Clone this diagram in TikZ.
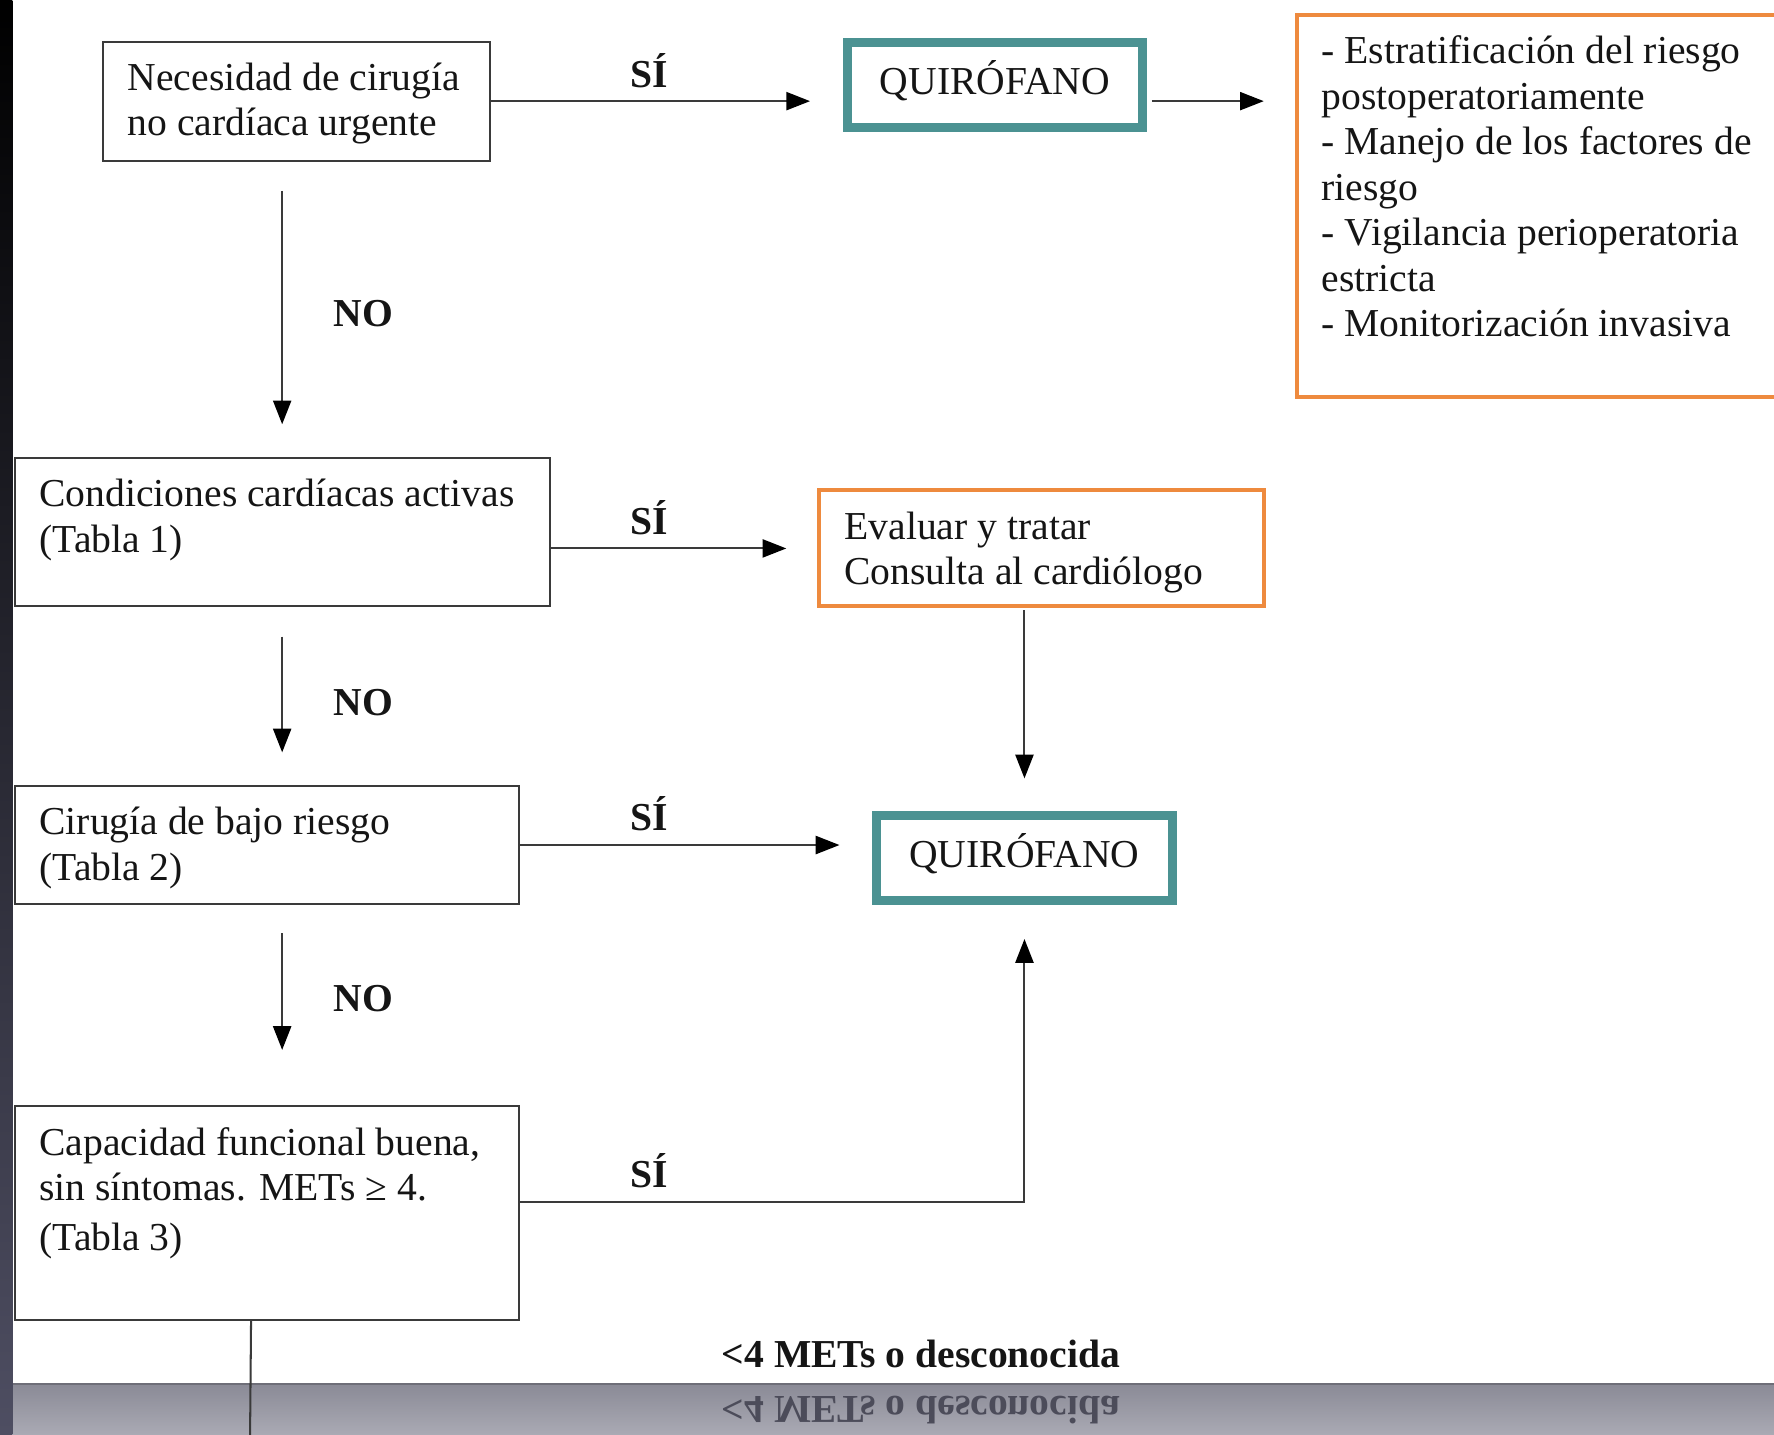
\documentclass[tikz,border=0pt]{standalone}
\usepackage{fontspec}
\setmainfont{Liberation Serif}
\usetikzlibrary{arrows.meta,calc}
\definecolor{teal1}{HTML}{4B9292}
\definecolor{orange1}{HTML}{EE8A3E}
\definecolor{ln}{HTML}{3A3A3A}
\definecolor{txt}{HTML}{151515}
\definecolor{refl}{HTML}{4C4C5A}
\definecolor{bandtop}{HTML}{8A8A96}
\definecolor{bandbot}{HTML}{AAAAB4}
\definecolor{bandline}{HTML}{6E6E78}
\definecolor{stripmid}{HTML}{12122C}
\definecolor{stripbot}{HTML}{4E4E62}
% box text: {width}{height}{left padding}{text}
\newcommand\bxt[4]{\parbox[c][#2][t]{#1}{\fontsize{35}{40.2}\selectfont\color{txt}\raggedright\leftskip=#3\relax\parindent=0pt\rule{0pt}{43pt}#4}}
\begin{document}
\begin{tikzpicture}[x=1pt,y=-1pt,
  bx/.style={draw=ln, line width=1.8pt, inner sep=0pt, anchor=north west},
  ob/.style={draw=orange1, line width=3.5pt, inner sep=0pt, anchor=north west},
  qb/.style={draw=teal1, line width=8pt, inner sep=0pt, minimum width=261pt, minimum height=75pt,
    font=\fontsize{35}{40}\selectfont, text=txt, text height=17pt, text depth=0pt},
  lbl/.style={font=\fontsize{35}{40}\selectfont\bfseries, text=txt, anchor=base, inner sep=0pt},
  conn/.style={draw=ln, line width=1.8pt, -{Triangle[length=21pt,width=16pt,color=black]}},
  plain/.style={draw=ln, line width=1.8pt},
]
% background and bounding box
\fill[white] (0,0) rectangle (1568,1268);
\useasboundingbox (0,0) rectangle (1568,1268);
% bottom band
\shade[top color=bandtop, bottom color=bandbot] (11,1223) rectangle (1568,1268);
\draw[bandline, line width=1.5pt] (11,1223) -- (1568,1223);
% left strip
\shade[top color=black, middle color=stripmid, bottom color=stripbot] (0,0) rectangle (11,1268);

% boxes
\node[bx] (b1) at (90,36) {\bxt{342pt}{105pt}{22pt}{Necesidad de cirugía\\no cardíaca urgente}};
\node[qb] (q1) at (879.5,75) {QUIRÓFANO};
\node[ob] (o1) at (1144.5,11.75) {\bxt{520pt}{337pt}{22pt}{- Estratificación del riesgo\\postoperatoriamente\\- Manejo de los factores de\\riesgo\\- Vigilancia perioperatoria\\estricta\\- Monitorización invasiva}};
\node[bx] (b2) at (12,404) {\bxt{473pt}{131pt}{22pt}{Condiciones cardíacas activas\\(Tabla 1)}};
\node[ob] (o2) at (721.75,431.75) {\bxt{393.5pt}{102.5pt}{23pt}{Evaluar y tratar\\Consulta al cardiólogo}};
\node[bx] (b3) at (12,694) {\bxt{446pt}{104pt}{22pt}{Cirugía de bajo riesgo\\(Tabla 2)}};
\node[qb] (q2) at (905.5,758.5) {QUIRÓFANO};
\node[bx] (b4) at (12,977) {\bxt{446pt}{189pt}{22pt}{Capacidad funcional buena,\\sin síntomas. METs ≥ 4.\\[4pt](Tabla 3)}};

% labels
\node[lbl] (s1) at (574,77) {SÍ};
\node[lbl] (s2) at (574,472) {SÍ};
\node[lbl] (s3) at (574,734) {SÍ};
\node[lbl] (s4) at (574,1050) {SÍ};
\node[lbl] (n1) at (321,289) {NO};
\node[lbl] (n2) at (321,632) {NO};
\node[lbl] (n3) at (321,894) {NO};
\node[lbl] (m) at (814,1209) {<4 METs o desconocida};
\node[lbl, yscale=-1, transform shape, text=refl] (mr) at (814,1234) {<4 METs o desconocida};

% connectors
\draw[conn, shorten >=29pt] (b1.east) -- (b1.east -| q1.west);
\draw[conn, shorten <=4pt, shorten >=27.5pt] (b1.east -| q1.east) -- (b1.east -| o1.west);
\draw[conn, shorten <=26pt, shorten >=29pt] (b1.south -| b2.north) -- (b2.north);
\draw[conn, shorten >=26.75pt] (o2.west -| b2.east) -- (o2.west);
\draw[conn, shorten <=1.75pt, shorten >=29pt] (o2.south -| q2.north) -- (q2.north);
\draw[conn, shorten <=26pt, shorten >=29pt] (b2.south) -- (b2.south |- b3.north);
\draw[conn, shorten >=29pt] (b3.east) -- (b3.east -| q2.west);
\draw[conn, shorten <=25pt, shorten >=49pt] (b2.south |- b3.south) -- (b2.south |- b4.north);
\draw[conn, shorten >=30pt] ([yshift=10pt]b4.east) -| (q2.south);
\coordinate (bot) at (221,1272);
\draw[plain] ([xshift=-14pt]b4.south) -- (bot);
\end{tikzpicture}
\end{document}
